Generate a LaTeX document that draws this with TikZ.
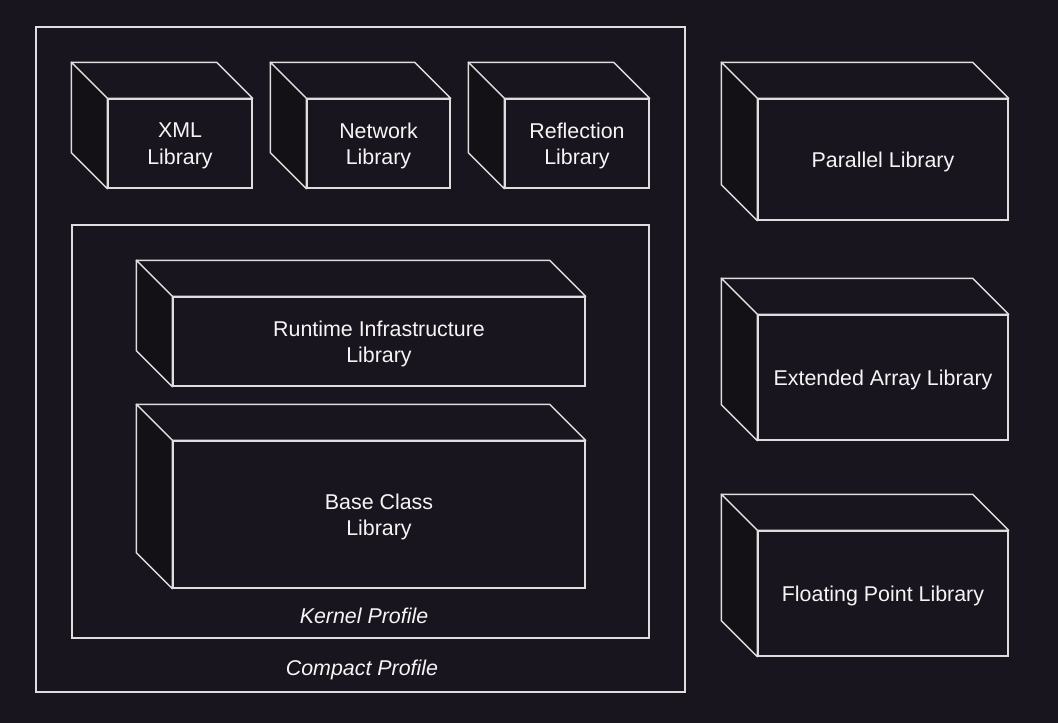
\documentclass[tikz,border=0pt]{standalone}
\usepackage{xcolor}
\usepackage{fontspec}
\setmainfont{Liberation Sans}
\usepackage{tikz}

\definecolor{bgdark}{RGB}{24,21,30}
\definecolor{sidedark}{RGB}{19,17,22}
\definecolor{edge}{RGB}{222,222,222}
\definecolor{txt}{RGB}{245,245,245}

\tikzset{
	front/.style={draw=edge, line width=1.4pt, fill=bgdark, inner sep=0pt},
	libtext/.style={text=txt, align=center, inner sep=0pt, font=\fontsize{21.4}{26.8}\selectfont},
	side/.style={draw=edge, line width=1.4pt, line join=round, fill=sidedark},
	lid/.style={draw=edge, line width=1.4pt, line join=round, fill=bgdark},
	frame/.style={draw=edge, line width=1.4pt},
	caption/.style={text=txt, font=\fontsize{21.4}{26.8}\selectfont\itshape}
}

\begin{document}
\begin{tikzpicture}[x=1pt, y=-1pt]
	\newcommand\dd{36}
	\newcommand\tdn{2.5}
	\newcommand\cubeface[1]{%
		\draw[lid] (#1.north west) -- ++(-\dd,-\dd) -- ([shift={(-\dd,-\dd)}]#1.north east) -- (#1.north east) -- cycle;
		\draw[side] (#1.north west) -- ++(-\dd,-\dd) -- ([shift={(-\dd,-\dd)}]#1.south west) -- (#1.south west) -- cycle;}

	\fill[bgdark] (0,0) rectangle (1058,723);
	\useasboundingbox (0,0) rectangle (1058,723);

	\draw[frame] (36,27) rectangle (685,692); % compact
	\draw[frame] (72,225) rectangle (649,638); % kernel
	\node[caption] (compactlbl) at (362,669.5) {Compact Profile};
	\node[caption] (kernellbl) at (364,616) {Kernel Profile};

	% top row inside compact
	\node[front, minimum width=144, minimum height=89] (xml) at (180,143.5) {};
	\node[front, minimum width=143, minimum height=89] (net) at (378.5,143.5) {};
	\node[front, minimum width=144, minimum height=89] (refl) at (577,143.5) {};

	% kernel
	\node[front, minimum width=412, minimum height=89] (rti) at (379,341.5) {};
	\node[front, minimum width=412, minimum height=147] (bcl) at (379,514.5) {};

	% right column
	\node[front, minimum width=250, minimum height=121] (par) at (883,159.5) {};
	\node[front, minimum width=250, minimum height=125] (ext) at (883,377.5) {};
	\node[front, minimum width=250, minimum height=125] (flt) at (883,593.5) {};

	\cubeface{xml} \cubeface{net} \cubeface{refl}
	\cubeface{rti} \cubeface{bcl}
	\cubeface{par} \cubeface{ext} \cubeface{flt}

	% labels
	\node[libtext] (xmltxt) at ([shift={(0,\tdn)}]xml.center) {XML\\Library};
	\node[libtext] (nettxt) at ([shift={(0,\tdn)}]net.center) {Network\\Library};
	\node[libtext] (refltxt) at ([shift={(0,\tdn)}]refl.center) {Reflection\\Library};
	\node[libtext] (rtitxt) at ([shift={(0,\tdn)}]rti.center) {Runtime Infrastructure\\Library};
	\node[libtext] (bcltxt) at ([shift={(0,\tdn)}]bcl.center) {Base Class\\Library};
	\node[libtext] (partxt) at ([shift={(0,\tdn)}]par.center) {Parallel Library};
	\node[libtext] (exttxt) at ([shift={(0,\tdn)}]ext.center) {Extended Array Library};
	\node[libtext] (flttxt) at ([shift={(0,\tdn)}]flt.center) {Floating Point Library};
\end{tikzpicture}
\end{document}
